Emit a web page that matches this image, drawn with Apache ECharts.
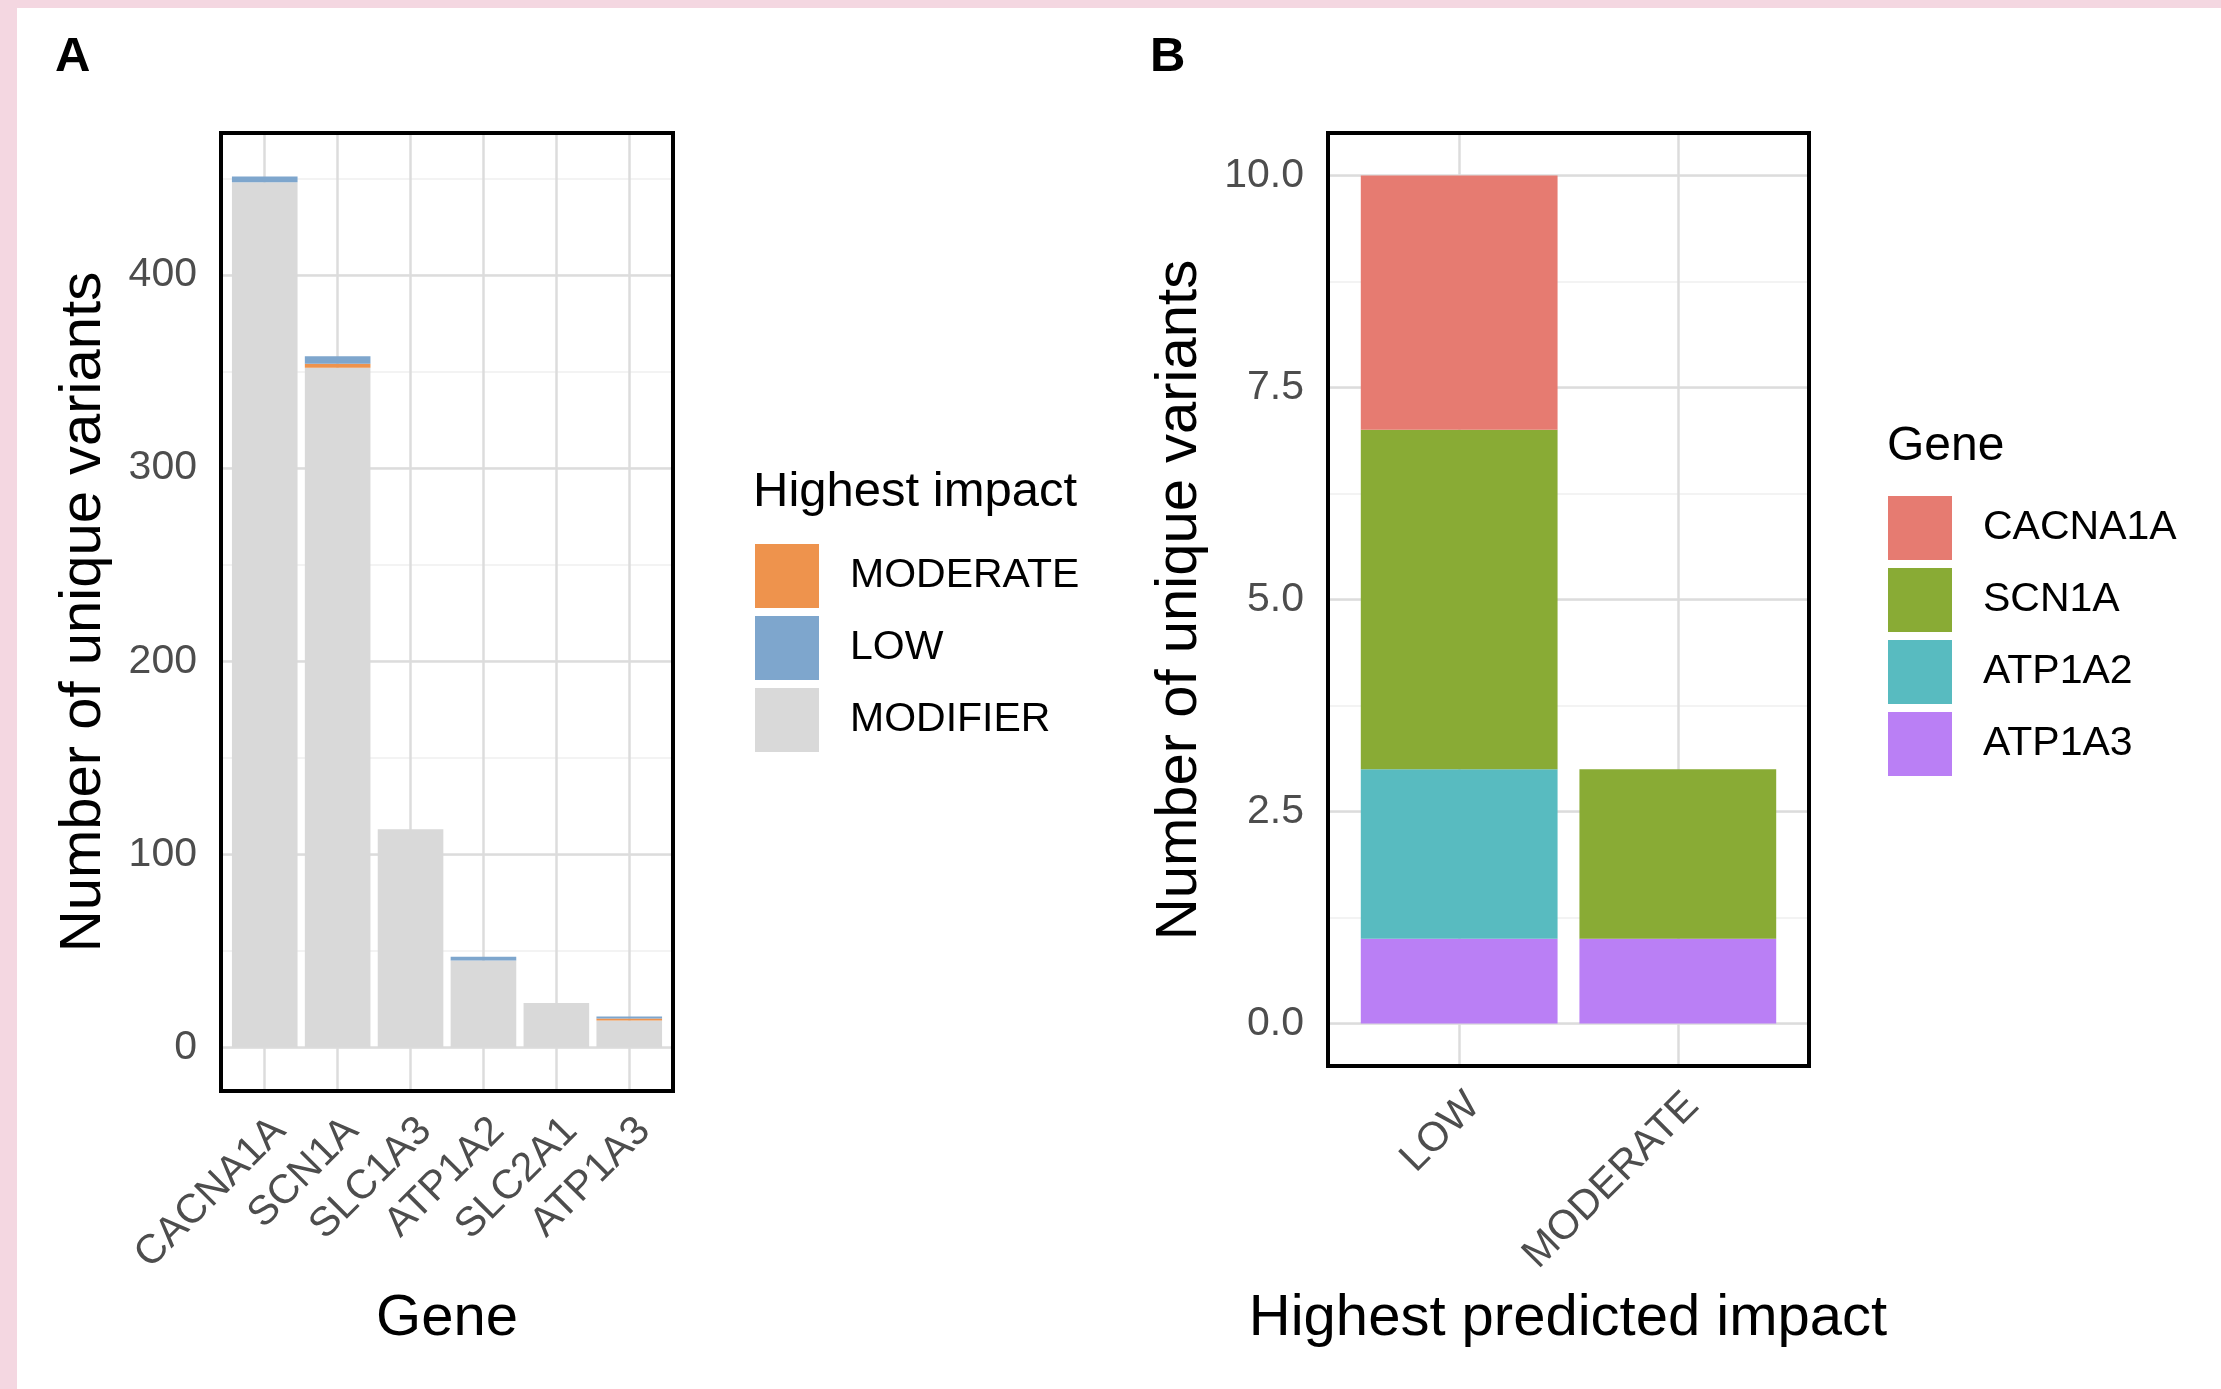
<!DOCTYPE html>
<head>
    <meta charset="utf-8">
    <script type="text/javascript" src="https://cdn.jsdelivr.net/npm/echarts@6.0.0/dist/echarts.min.js"></script>
    <style>body { margin: 0; background: #fff; }</style>
</head>
<body>
	<div id="main" style="width:2221px; height:1389px"></div>
	<script type="text/javascript">
		// panel A: unique variants per gene, stacked by highest impact
		var genesA = ['CACNA1A', 'SCN1A', 'SLC1A3', 'ATP1A2', 'SLC2A1', 'ATP1A3'];
		var modifierA = [448, 352, 113, 45, 23, 14];
		var moderateA = [0, 2, 0, 0, 0, 1];
		var lowA = [3, 4, 0, 2, 0, 1];
		var yTicksA = [0, 100, 200, 300, 400];

		// panel B: variants per highest predicted impact, stacked by gene
		var impactB = ['LOW', 'MODERATE'];
		var cacna1aB = [3, 0];
		var scn1aB = [4, 2];
		var atp1a2B = [2, 0];
		var atp1a3B = [1, 1];
		var yTicksB = [0, 2.5, 5, 7.5, 10];

		var gridA = {left: 221, top: 133, width: 452, height: 958};
		var gridB = {left: 1328, top: 133, width: 481, height: 933};

		var fontFamily = 'Liberation Sans';
		var majorLine = {color: '#DCDCDC', width: 2.5};
		var minorLine = {color: '#EFEFEF', width: 1.5};
		var tickColor = '#4D4D4D';

		function stackMax(arrs) {
			var best = 0;
			for (var i = 0; i < arrs[0].length; i++) {
				var s = 0;
				for (var j = 0; j < arrs.length; j++) s += arrs[j][i];
				if (s > best) best = s;
			}
			return best;
		}
		var maxA = stackMax([modifierA, moderateA, lowA]);
		var maxB = stackMax([atp1a3B, atp1a2B, scn1aB, cacna1aB]);

		function yAxes(gridIndex, maxV, step, ticks, digits) {
			var lo = -0.05 * maxV, hi = 1.05 * maxV;
			return [
				{
					type: 'value', gridIndex: gridIndex, min: lo, max: hi,
					minInterval: step, maxInterval: step, z: 1,
					axisLine: {show: false}, axisTick: {show: false},
					splitLine: {lineStyle: majorLine},
					axisLabel: {
						color: tickColor, fontSize: 41, fontFamily: fontFamily, margin: 24,
						formatter: function (v) {
							for (var i = 0; i < ticks.length; i++) {
								if (Math.abs(ticks[i] - v) < 1e-6) return ticks[i].toFixed(digits);
							}
							return '';
						}
					}
				},
				{
					type: 'value', gridIndex: gridIndex, min: lo, max: hi, position: 'left',
					minInterval: step / 2, maxInterval: step / 2, z: 0,
					axisLine: {show: false}, axisTick: {show: false}, axisLabel: {show: false},
					splitLine: {lineStyle: minorLine}
				}
			];
		}

		function xAxis(gridIndex, cats) {
			return {
				type: 'value', gridIndex: gridIndex, min: 0.4, max: cats.length + 0.6,
				minInterval: 1, maxInterval: 1,
				axisLine: {show: false}, axisTick: {show: false},
				splitLine: {lineStyle: majorLine},
				axisLabel: {
					rotate: 45, verticalAlign: 'top', margin: 19,
					color: tickColor, fontSize: 41, fontFamily: fontFamily,
					formatter: function (v) { return cats[v - 1] || ''; }
				}
			};
		}

		// value first so the stack runs on the y dimension
		function bars(name, values, color, xi, yi, stack) {
			return {
				name: name, type: 'bar', stack: stack, xAxisIndex: xi, yAxisIndex: yi,
				barWidth: '90%', itemStyle: {color: color},
				encode: {x: 1, y: 0},
				data: values.map(function (v, i) { return [v, i + 1]; })
			};
		}

		function label(text, x, y, size, opts) {
			opts = opts || {};
			return {
				type: 'text', x: x, y: y, rotation: opts.rotation || 0, z: 100,
				style: {
					text: text, fill: '#000',
					font: (opts.bold ? 'bold ' : '') + size + 'px "' + fontFamily + '"',
					align: opts.align || 'left', verticalAlign: 'middle'
				}
			};
		}

		function frame(g) {
			return {
				type: 'rect', z: 100,
				shape: {x: g.left, y: g.top, width: g.width, height: g.height},
				style: {fill: 'none', stroke: '#000', lineWidth: 4}
			};
		}

		var legendText = {color: '#000', fontSize: 41, fontFamily: fontFamily, padding: [8, 0, 0, 26]};

		var myChart = echarts.init(document.getElementById('main'));
		var option = {
			animation: false,
			backgroundColor: '#fff',
			grid: [
				Object.assign({outerBoundsMode: 'none'}, gridA),
				Object.assign({outerBoundsMode: 'none'}, gridB)
			],
			xAxis: [xAxis(0, genesA), xAxis(1, impactB)],
			yAxis: yAxes(0, maxA, 100, yTicksA, 0).concat(yAxes(1, maxB, 2.5, yTicksB, 1)),
			legend: [
				{
					orient: 'vertical', left: 755, top: 544, padding: 0, itemGap: 8,
					itemWidth: 64, itemHeight: 64, icon: 'rect', selectedMode: false,
					textStyle: legendText,
					data: ['MODERATE', 'LOW', 'MODIFIER']
				},
				{
					orient: 'vertical', left: 1888, top: 496, padding: 0, itemGap: 8,
					itemWidth: 64, itemHeight: 64, icon: 'rect', selectedMode: false,
					textStyle: legendText,
					data: ['CACNA1A', 'SCN1A', 'ATP1A2', 'ATP1A3']
				}
			],
			series: [
				bars('MODIFIER', modifierA, '#D9D9D9', 0, 0, 'a'),
				bars('MODERATE', moderateA, '#EE934D', 0, 0, 'a'),
				bars('LOW', lowA, '#7EA6CD', 0, 0, 'a'),
				bars('ATP1A3', atp1a3B, '#BA7FF5', 1, 2, 'b'),
				bars('ATP1A2', atp1a2B, '#58BBC0', 1, 2, 'b'),
				bars('SCN1A', scn1aB, '#89AB35', 1, 2, 'b'),
				bars('CACNA1A', cacna1aB, '#E67B71', 1, 2, 'b')
			],
			graphic: [
				{type: 'rect', z: 100, shape: {x: 0, y: 0, width: 2221, height: 8}, style: {fill: '#F4D7E1'}},
				{type: 'rect', z: 100, shape: {x: 0, y: 0, width: 17, height: 1389}, style: {fill: '#F4D7E1'}},
				frame(gridA),
				frame(gridB),
				label('A', 55, 57, 49, {bold: true}),
				label('B', 1150, 57, 49, {bold: true}),
				label('Highest impact', 753, 492, 49),
				label('Gene', 1887, 447, 48),
				label('Gene', 447, 1319, 58, {align: 'center'}),
				label('Highest predicted impact', 1568, 1319, 58, {align: 'center'}),
				label('Number of unique variants', 84, 612, 58, {align: 'center', rotation: Math.PI / 2}),
				label('Number of unique variants', 1180, 600, 58, {align: 'center', rotation: Math.PI / 2})
			]
		};

		myChart.setOption(option);
	</script>
</body>
